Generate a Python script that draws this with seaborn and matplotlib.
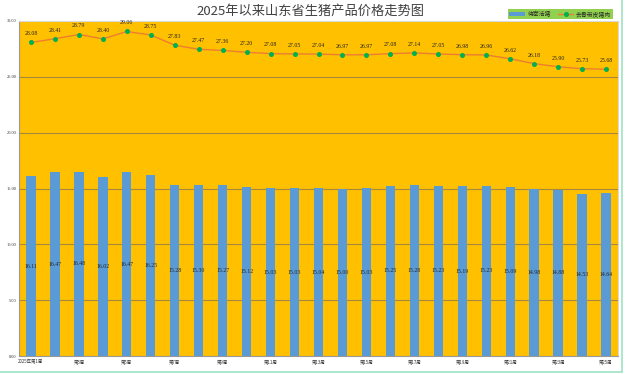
import numpy as np
import pandas as pd
import matplotlib
matplotlib.use("Agg")
import matplotlib.pyplot as plt
import seaborn as sns
from matplotlib.patches import Patch
from matplotlib.lines import Line2D

weeks = [f"第{i}周" for i in range(1, 26)]
weeks[0] = "2025年第1周"
live_pig = [16.11, 16.47, 16.48, 16.02, 16.47, 16.25, 15.28, 15.30, 15.27, 15.12,
            15.03, 15.03, 15.04, 15.00, 15.03, 15.25, 15.28, 15.23, 15.19, 15.23,
            15.09, 14.98, 14.88, 14.53, 14.64]
pork = [28.08, 28.41, 28.79, 28.40, 29.06, 28.75, 27.83, 27.47, 27.36, 27.20,
        27.08, 27.05, 27.04, 26.97, 26.97, 27.08, 27.14, 27.05, 26.98, 26.96,
        26.62, 26.18, 25.90, 25.73, 25.68]
series_names = ["待宰活猪", "去骨带皮猪肉"]
title = "2025年以来山东省生猪产品价格走势图"

sns.set_theme(style="white")
plt.rcParams['font.family'] = ['Noto Sans CJK SC', 'DejaVu Sans']
plt.rcParams['axes.unicode_minus'] = False

df = pd.DataFrame({"week": weeks, "live": live_pig, "pork": pork})

fig = plt.figure(figsize=(6.26, 3.74), dpi=100)
fig.patch.set_facecolor("white")
ax = fig.add_axes([19/626, 18/374, 599/626, 335/374])
ax.set_facecolor("#FFC000")

sns.barplot(data=df, x="week", y="live", color="#5B9BD5", width=0.39,
            saturation=1, linewidth=0, edgecolor="none", ax=ax, zorder=3)
xs = np.arange(len(weeks))
ax.plot(xs, pork, color="#ED7D31", lw=1.0, marker="o", markersize=2.6,
        markerfacecolor="#00B050", markeredgecolor="#00B050", zorder=4)

num_font = "Liberation Serif"
for x, v in zip(xs, live_pig):
    ax.text(x, v / 2, f"{v:.2f}", ha="center", va="center", fontsize=4.2,
            family=num_font, color="#222222", zorder=5)
for x, v in zip(xs, pork):
    ax.text(x, v + 0.55, f"{v:.2f}", ha="center", va="bottom", fontsize=4.2,
            family=num_font, color="#222222", zorder=5)

ax.set_xlim(-0.5, len(weeks) - 0.5)
ax.set_ylim(0, 30)
ax.set_yticks(np.arange(0, 31, 5))
ax.set_yticklabels([f"{t:.2f}" for t in np.arange(0, 31, 5)], fontsize=3.2,
                   family=num_font)
ax.set_xticks(xs[::2])
ax.set_xticklabels([weeks[i] for i in xs[::2]], fontsize=3.2)
ax.tick_params(axis="both", length=0, pad=2, colors="#333333")
ax.set_xlabel("")
ax.set_ylabel("")
for y in range(5, 30, 5):
    ax.axhline(y, color="#A8883A", lw=0.8, zorder=1)
for s in ["left", "bottom"]:
    ax.spines[s].set_color("#999999")
    ax.spines[s].set_linewidth(0.8)
for s in ["top", "right"]:
    ax.spines[s].set_color("#D9D9D9")
    ax.spines[s].set_linewidth(0.8)

fig.text(310/626, 1 - 11/374, title, ha="center", va="center", fontsize=9.5,
         color="#404040")

handles = [Patch(facecolor="#5B9BD5", edgecolor="none"),
           Line2D([0], [0], color="#ED7D31", lw=1.0, marker="o", markersize=2.6,
                  markerfacecolor="#00B050", markeredgecolor="#00B050")]
leg = fig.legend(handles, series_names, loc="upper right",
                 bbox_to_anchor=(616/626, 1 - 6/374), ncol=2, fontsize=4.2,
                 frameon=True, facecolor="#92D050", edgecolor="#92D050",
                 framealpha=1, fancybox=False, borderpad=0.3, handlelength=2.6,
                 handleheight=0.6, columnspacing=1.2, handletextpad=0.5)
leg.get_frame().set_linewidth(0)

# light green frame lines at right and bottom
fig.add_artist(Line2D([0, 622/626], [2/374, 2/374], color="#9FE3C4", lw=1.2,
                      transform=fig.transFigure))
fig.add_artist(Line2D([622/626, 622/626], [2/374, 1], color="#9FE3C4", lw=1.2,
                      transform=fig.transFigure))

fig.savefig("out.png", dpi=100, facecolor=fig.get_facecolor())
